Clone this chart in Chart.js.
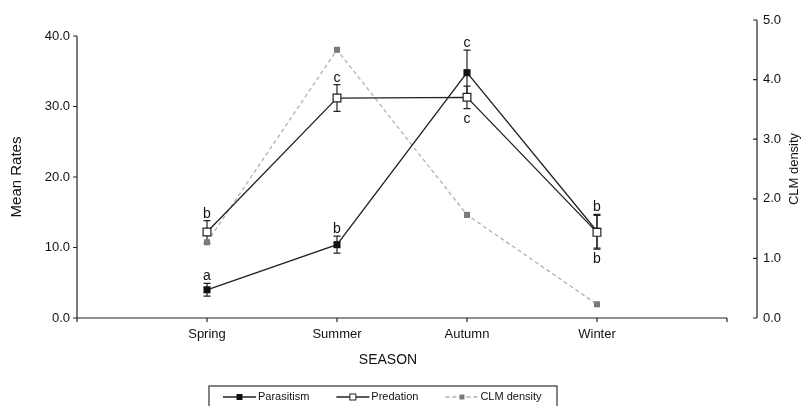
<!DOCTYPE html>
<html>
<head>
<meta charset="utf-8">
<script src="https://cdn.jsdelivr.net/npm/chart.js@4/dist/chart.umd.min.js"></script>
<style>
  html, body { margin: 0; padding: 0; background: #fff; }
  #wrap { width: 807px; height: 406px; }
</style>
</head>
<body>
<div id="wrap"><canvas id="c" width="807" height="406"></canvas></div>
<script>
// Seasonal mean rates (left axis) and CLM density (right axis)
const seasons = ['Spring', 'Summer', 'Autumn', 'Winter'];

const parasitism = [4.0, 10.4, 34.8, 12.3];
const parasitismErr = [0.9, 1.2, 3.2, 2.4];
const parasitismGroups = ['a', 'b', 'c', 'b'];

const predation = [12.2, 31.2, 31.3, 12.15];
const predationErr = [1.6, 1.9, 1.6, 2.4];
const predationGroups = ['b', 'c', 'c', 'b'];

const clmDensity = [1.27, 4.5, 1.73, 0.23];

const rateTicks = [0, 10, 20, 30, 40];
const densityTicks = [0, 1, 2, 3, 4, 5];
const seasonTicks = [0, 1, 2, 3, 4, 5];

const FONT = "'Liberation Sans', Arial, Helvetica, sans-serif";
const INK = '#222';

const toPoints = (vals) => vals.map((v, i) => ({ x: i + 1, y: v }));

// error bars under the markers
const errorBars = {
  id: 'errorBars',
  beforeDatasetsDraw(chart) {
    const { ctx } = chart;
    ctx.save();
    ctx.strokeStyle = INK;
    ctx.lineWidth = 1.2;
    chart.data.datasets.forEach((ds) => {
      if (!ds.errors) return;
      const ys = chart.scales[ds.yAxisID];
      const xs = chart.scales.x;
      ds.data.forEach((p, i) => {
        const e = ds.errors[i];
        const px = xs.getPixelForValue(p.x);
        const top = ys.getPixelForValue(p.y + e);
        const bot = ys.getPixelForValue(p.y - e);
        ctx.beginPath();
        ctx.moveTo(px, top); ctx.lineTo(px, bot);
        ctx.moveTo(px - 3.5, top); ctx.lineTo(px + 3.5, top);
        ctx.moveTo(px - 3.5, bot); ctx.lineTo(px + 3.5, bot);
        ctx.stroke();
      });
    });
    ctx.restore();
  }
};

// significance letters: above the bar, or below it when the other series sits higher
const groupLetters = {
  id: 'groupLetters',
  afterDatasetsDraw(chart) {
    const { ctx } = chart;
    const xs = chart.scales.x, ys = chart.scales.yRate;
    ctx.save();
    ctx.fillStyle = '#111';
    ctx.font = '14px ' + FONT;
    ctx.textAlign = 'center';
    ctx.textBaseline = 'alphabetic';
    seasons.forEach((s, i) => {
      const px = xs.getPixelForValue(i + 1);
      const pTop = ys.getPixelForValue(parasitism[i] + parasitismErr[i]);
      ctx.fillText(parasitismGroups[i], px, pTop - 3);
      if (parasitism[i] > predation[i]) {
        const qBot = ys.getPixelForValue(predation[i] - predationErr[i]);
        ctx.fillText(predationGroups[i], px, qBot + 14);
      } else {
        const qTop = ys.getPixelForValue(predation[i] + predationErr[i]);
        ctx.fillText(predationGroups[i], px, qTop - 3);
      }
    });
    ctx.restore();
  }
};

// axis lines, tick marks, axis titles and the boxed legend
const frame = {
  id: 'frame',
  afterDraw(chart) {
    const { ctx } = chart;
    const xs = chart.scales.x, yl = chart.scales.yRate, yr = chart.scales.yDensity;
    ctx.save();
    ctx.strokeStyle = INK;
    ctx.lineWidth = 1.2;

    const x0 = xs.getPixelForValue(0);
    const x5 = xs.getPixelForValue(5);
    const yBase = yl.getPixelForValue(0);

    // left axis
    ctx.beginPath();
    ctx.moveTo(x0, yl.getPixelForValue(40));
    ctx.lineTo(x0, yBase + 4);
    rateTicks.forEach((v) => {
      const py = yl.getPixelForValue(v);
      ctx.moveTo(x0 - 4, py); ctx.lineTo(x0, py);
    });
    // bottom axis
    ctx.moveTo(x0 - 4, yBase);
    ctx.lineTo(x5, yBase);
    seasonTicks.forEach((v) => {
      const px = xs.getPixelForValue(v);
      ctx.moveTo(px, yBase); ctx.lineTo(px, yBase + 4);
    });
    // right axis
    const xr = chart.chartArea.right;
    ctx.moveTo(xr, yr.getPixelForValue(5));
    ctx.lineTo(xr, yr.getPixelForValue(0));
    densityTicks.forEach((v) => {
      const py = yr.getPixelForValue(v);
      ctx.moveTo(xr - 4, py); ctx.lineTo(xr, py);
    });
    ctx.stroke();

    // axis titles
    ctx.fillStyle = '#111';
    ctx.textAlign = 'center';
    ctx.textBaseline = 'middle';
    ctx.font = '14px ' + FONT;
    ctx.fillText('SEASON', 388, 360);

    ctx.font = '15px ' + FONT;
    ctx.save();
    ctx.translate(17, (yl.getPixelForValue(0) + yl.getPixelForValue(40)) / 2);
    ctx.rotate(-Math.PI / 2);
    ctx.fillText('Mean Rates', 0, 0);
    ctx.restore();

    ctx.font = '13px ' + FONT;
    ctx.save();
    ctx.translate(794, (yr.top + yr.bottom) / 2);
    ctx.rotate(-Math.PI / 2);
    ctx.fillText('CLM density', 0, 0);
    ctx.restore();

    // legend box
    const bx = 209, by = 386, bw = 348;
    ctx.strokeStyle = '#333';
    ctx.lineWidth = 1.2;
    ctx.strokeRect(bx, by, bw, 30);

    ctx.font = '11px ' + FONT;
    ctx.textAlign = 'left';
    ctx.textBaseline = 'middle';
    const ly = 397;
    let lx = 223;
    const order = [1, 0, 2];
    order.forEach((di) => {
      const ds = chart.data.datasets[di];
      ctx.save();
      ctx.strokeStyle = ds.borderColor;
      ctx.lineWidth = ds.borderWidth;
      ctx.setLineDash(ds.borderDash || []);
      ctx.beginPath();
      ctx.moveTo(lx, ly); ctx.lineTo(lx + 33, ly);
      ctx.stroke();
      ctx.setLineDash([]);
      const side = ds.legendMarker;
      ctx.fillStyle = ds.pointBackgroundColor;
      ctx.fillRect(lx + 16.5 - side / 2, ly - side / 2, side, side);
      if (ds.pointBorderWidth) {
        ctx.strokeStyle = ds.pointBorderColor;
        ctx.lineWidth = 1;
        ctx.strokeRect(lx + 16.5 - side / 2, ly - side / 2, side, side);
      }
      ctx.restore();
      ctx.fillStyle = '#111';
      ctx.fillText(ds.label, lx + 35, ly);
      lx += 35 + ctx.measureText(ds.label).width + 27;
    });

    ctx.restore();
  }
};

Chart.defaults.font.family = FONT;
Chart.defaults.color = '#111';

new Chart(document.getElementById('c'), {
  type: 'line',
  data: {
    datasets: [
      {
        label: 'Predation',
        data: toPoints(predation),
        errors: predationErr,
        yAxisID: 'yRate',
        order: 0,
        borderColor: INK,
        borderWidth: 1.3,
        pointStyle: 'rect',
        pointRadius: 5.5,
        pointBackgroundColor: '#fff',
        pointBorderColor: INK,
        pointBorderWidth: 1.2,
        legendMarker: 6,
        tension: 0,
        fill: false
      },
      {
        label: 'Parasitism',
        data: toPoints(parasitism),
        errors: parasitismErr,
        yAxisID: 'yRate',
        order: 1,
        borderColor: INK,
        borderWidth: 1.3,
        pointStyle: 'rect',
        pointRadius: 5,
        pointBackgroundColor: '#111',
        pointBorderColor: '#111',
        pointBorderWidth: 0,
        legendMarker: 6,
        tension: 0,
        fill: false
      },
      {
        label: 'CLM density',
        data: toPoints(clmDensity),
        yAxisID: 'yDensity',
        order: 2,
        borderColor: '#b0b0b0',
        borderWidth: 1.3,
        borderDash: [4, 3],
        pointStyle: 'rect',
        pointRadius: 4.3,
        pointBackgroundColor: '#7a7a7a',
        pointBorderColor: '#7a7a7a',
        pointBorderWidth: 0,
        legendMarker: 5,
        tension: 0,
        fill: false
      }
    ]
  },
  options: {
    responsive: false,
    animation: false,
    events: [],
    layout: { padding: { top: 20, left: 0, right: 0, bottom: 0 } },
    plugins: {
      legend: { display: false },
      tooltip: { enabled: false }
    },
    scales: {
      x: {
        type: 'linear',
        min: 0,
        max: 680 / 130,
        afterBuildTicks: (s) => { s.ticks = seasonTicks.map((v) => ({ value: v })); },
        afterFit: (s) => { s.height = 88; },
        grid: { display: false, drawTicks: false },
        border: { display: false },
        ticks: {
          autoSkip: false,
          maxRotation: 0,
          padding: 9,
          font: { size: 13 },
          color: '#111',
          callback: (v) => seasons[v - 1] || ''
        }
      },
      yRate: {
        type: 'linear',
        position: 'left',
        min: 0,
        max: 40 * 298 / 282,
        afterBuildTicks: (s) => { s.ticks = rateTicks.map((v) => ({ value: v })); },
        afterFit: (s) => { s.width = 77; },
        grid: { display: false, drawTicks: false },
        border: { display: false },
        ticks: {
          padding: 7,
          font: { size: 13 },
          color: '#111',
          callback: (v) => Number(v).toFixed(1)
        }
      },
      yDensity: {
        type: 'linear',
        position: 'right',
        min: 0,
        max: 5,
        afterBuildTicks: (s) => { s.ticks = densityTicks.map((v) => ({ value: v })); },
        afterFit: (s) => { s.width = 50; },
        grid: { display: false, drawTicks: false },
        border: { display: false },
        ticks: {
          padding: 6,
          font: { size: 13 },
          color: '#111',
          callback: (v) => Number(v).toFixed(1)
        }
      }
    }
  },
  plugins: [errorBars, groupLetters, frame]
});
</script>
</body>
</html>
